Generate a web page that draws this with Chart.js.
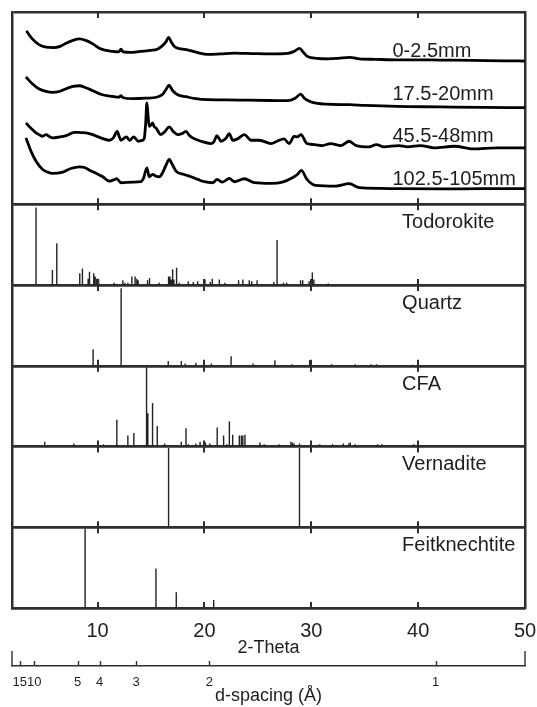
<!DOCTYPE html>
<html>
<head>
<meta charset="utf-8">
<script src="https://cdn.jsdelivr.net/npm/chart.js@4.4.1/dist/chart.umd.min.js"></script>
<style>
  html, body { margin: 0; padding: 0; background: #fff; }
  canvas { display: block; }
</style>
</head>
<body>
<canvas id="chart" width="537" height="707"></canvas>
<script>
// measured patterns: [2-theta, intensity] (arbitrary units, already offset per depth)
var sampleNames = ["0-2.5mm", "17.5-20mm", "45.5-48mm", "102.5-105mm"];

var depth_0_2_5 = [[3.35,174],[3.9,166],[4.56,160],[5.18,157.7],[5.93,157.3],[6.5,158.5],[7.06,161.7],[7.7,164.5],[8.3,166],[8.9,164.5],[9.56,161],[10.3,156],[11.4,153.5],[12.0,153],[12.2,155.7],[12.4,153],[13.1,152.5],[14.0,153.5],[15.0,154.5],[15.6,155.7],[16.0,158.5],[16.4,163],[16.65,167.5],[16.9,163],[17.2,158.3],[17.8,156],[18.4,155],[19.3,152.5],[20.3,150.5],[21.5,151],[22.8,151.7],[24.5,151.3],[26.2,151],[27.8,151.5],[28.4,153.5],[28.9,156.5],[29.3,152],[29.7,148],[30.5,146.5],[31.6,146],[32.5,146.5],[33.6,147.5],[34.5,146],[36,145.5],[38,145],[40,145],[42,144.8],[45,144.5],[48,144],[50,143.8]];

var depth_17_5_20 = [[3.31,127.7],[3.9,121],[4.5,116],[5.18,113.3],[5.8,112.3],[6.5,113.5],[7.06,116],[7.7,118.3],[8.3,119],[8.9,117],[9.56,114],[10.3,110.5],[11.4,108.3],[12.0,107.5],[12.2,109],[12.4,107],[13.3,106],[14.5,106.5],[15.6,107.7],[16.1,110.5],[16.4,115],[16.7,119.5],[17.0,114.5],[17.5,110],[18.3,108],[19.2,106],[20.3,105],[22,104.8],[24,104.5],[26.2,104.2],[27.8,104],[28.5,106.5],[29.0,110.5],[29.4,106],[30.1,102.3],[31.5,100.5],[33.6,100],[35,99.3],[38,98.3],[42,97.8],[46,97.3],[50,97]];

var depth_45_5_48 = [[3.31,81.7],[3.8,76],[4.25,71.7],[4.6,69.5],[4.87,68.3],[5.18,70],[5.5,68],[5.8,66.7],[6.4,67.5],[7.06,69],[7.5,71],[7.84,72.3],[8.4,72],[8.93,71.7],[9.56,70],[10.0,68],[10.5,66],[11.1,64.3],[11.5,67],[11.84,73.3],[12.0,69],[12.2,64.3],[12.7,67.7],[13.0,64.3],[13.4,67.7],[13.8,63.3],[14.1,64],[14.37,66],[14.5,80],[14.62,101.7],[14.74,88],[14.84,78.3],[15.0,79.5],[15.16,81.7],[15.3,78],[15.47,76.7],[15.93,70],[16.3,73],[16.71,77.7],[17.1,73],[17.5,70],[17.9,71],[18.28,73.3],[18.6,69],[18.9,66.7],[19.68,63.3],[20.6,61],[20.9,63],[21.18,69],[21.55,63.3],[22.0,66],[22.33,71],[22.65,64.3],[23.1,65.7],[23.74,70],[24.37,64.3],[25.15,64.3],[26.24,61],[26.8,63.3],[27.46,65.7],[27.93,61],[28.4,68.3],[28.7,67.7],[29.03,70],[29.6,61],[30.3,60],[31.05,59],[31.8,61],[32.8,59],[33.55,63.3],[34.2,59],[35.4,57.7],[36.1,60],[36.8,57.7],[38.2,59],[39,57.7],[40.2,59],[41.5,56.7],[43.4,58.3],[45.2,55.7],[47.4,56.7],[50,56.7]];

var depth_102_5_105 = [[3.31,66.7],[3.78,53.3],[4.25,43.3],[4.87,35],[5.3,32.5],[5.8,31],[6.75,32.3],[7.5,36],[8.31,37.7],[8.8,37],[9.25,34.3],[9.9,31],[10.5,27.7],[11.1,23.3],[11.5,24.5],[11.8,25.7],[12.2,21.7],[13.3,22.3],[14.07,22.7],[14.3,26],[14.62,36.7],[14.84,27.7],[15.16,30],[15.5,28],[15.8,27.7],[16.1,32],[16.4,39],[16.71,45],[17.0,40],[17.34,33.3],[18.1,30],[18.74,27.7],[19.4,25],[20,22.7],[20.8,21.7],[21.18,25],[21.7,22.3],[22.33,26],[22.8,22.7],[23.74,25.7],[24.68,21.7],[26.24,21],[27.3,22.3],[28.24,26.7],[28.7,30],[29.08,34],[29.6,25],[30.4,19],[32.3,18.3],[33.55,20.7],[34.5,16.7],[36.5,16],[38.2,15.7],[42,15.5],[46,15.7],[50,15.7]];

// reference stick patterns: [2-theta, relative intensity %]
var mineralNames = ["Todorokite", "Quartz", "CFA", "Vernadite", "Feitknechtite"];

var todorokite = [[4.25,98],[5.78,19],[6.19,53],[8.34,15],[8.59,21],[9.12,8],[9.25,17],[9.65,15],[9.78,11],[9.93,8],[10.1,8],[11.56,3],[12.37,6],[12.56,3],[12.84,3],[13.21,11],[13.52,11],[13.68,8],[13.8,6],[14.68,6],[14.87,9],[15.77,3],[16.65,11],[16.78,11],[16.9,7],[17.03,20],[17.15,7],[17.4,22],[17.65,3],[18.49,5],[18.96,4],[19.37,5],[20.06,7],[20.55,4],[20.74,8],[21.4,7],[21.93,3],[23.2,6],[23.6,7],[24.2,6],[24.43,5],[24.93,6],[26.5,4],[26.8,57],[27.4,3],[27.7,3],[29.0,6],[29.2,6],[29.8,5],[30.1,16],[30.25,7],[31.6,2],[33,1.5]];

var quartz = [[9.59,21],[12.21,98],[16.62,6],[17.84,6],[18.2,3],[19.2,4],[20.65,3],[22.5,12],[24.56,3],[26.6,7],[28.2,2],[29.85,7],[30.0,5],[31.9,2],[34.1,2],[35.6,2],[36.1,2],[39.5,1.5]];

var cfa = [[5.06,6],[7.78,4],[10.56,3],[11.81,34],[12.84,14],[13.4,17],[14.59,100],[14.71,42],[15.15,55],[15.59,26],[16.28,4],[17.84,6],[18.28,23],[18.5,3],[19.2,4],[19.6,6],[20.1,5],[20.5,4],[21.2,24],[21.8,14],[22.1,3],[22.34,32],[22.65,15],[23.27,14],[23.46,14],[23.6,14],[23.8,15],[25.2,5],[25.6,3],[26.4,2],[27.0,3],[27.5,2],[28.1,6],[28.25,5],[28.4,4],[28.9,4],[30.8,3],[32.0,3],[33.0,4],[33.5,4],[33.65,5],[34.1,3],[35.7,2],[36.2,3],[36.6,3],[37.3,2],[39.6,3],[40.3,2],[41.3,2],[42.5,2],[43.9,2]];

var vernadite = [[16.65,100],[28.9,100]];

var feitknechtite = [[8.84,100],[15.47,50],[17.37,20],[20.87,10]];

// axis ticks
var thetaTicks = [10, 20, 30, 40, 50];
var dSpacingTicks = [15, 10, 5, 4, 3, 2, 1];
var WAVELENGTH = 0.7107; // Mo K-alpha

function twoTheta(d) {
  return 2 * Math.asin(WAVELENGTH / (2 * d)) * 180 / Math.PI;
}

function toPoints(list) {
  return list.map(function (p) { return {x: p[0], y: p[1]}; });
}

// each reflection becomes a vertical segment, nulls break the line between them
function toSticks(list) {
  var pts = [];
  list.forEach(function (p) {
    pts.push({x: p[0], y: 0}, {x: p[0], y: p[1]}, {x: p[0], y: null});
  });
  return pts;
}

var INK = "#2e2e2e";
var FONT = "'Liberation Sans', Arial, Helvetica, sans-serif";
Chart.defaults.font.family = FONT;
Chart.defaults.color = "#1e1e1e";

var samples = [depth_0_2_5, depth_17_5_20, depth_45_5_48, depth_102_5_105];
var minerals = [todorokite, quartz, cfa, vernadite, feitknechtite];
var panelIds = ["ySamples", "yTodorokite", "yQuartz", "yCFA", "yVernadite", "yFeitknechtite"];

var datasets = [];
samples.forEach(function (s, i) {
  datasets.push({
    label: sampleNames[i],
    data: toPoints(s),
    yAxisID: "ySamples",
    borderColor: "#000",
    borderWidth: 2.8,
    pointRadius: 0,
    cubicInterpolationMode: "monotone",
  });
});
minerals.forEach(function (m, i) {
  datasets.push({
    label: mineralNames[i],
    data: toSticks(m),
    yAxisID: panelIds[i + 1],
    borderColor: "#222",
    borderWidth: 1.4,
    pointRadius: 0,
    tension: 0,
  });
});

function frameTicks(scale) {
  scale.ticks = [{value: scale.min}, {value: scale.max}];
}

var frameGrid = { color: INK, lineWidth: 2.5, drawTicks: false };
var frameBorder = { display: true, color: INK, width: 2.5 };

// tick padding also widens the chart's side margins in v4, so the label gap
// is made with an invisible tick length instead
var scales = {
  x: {
    type: "linear",
    position: "bottom",
    min: 2,
    max: 50,
    weight: 0,
    afterBuildTicks: function (s) {
      s.ticks = thetaTicks.map(function (v) { return {value: v}; });
    },
    grid: { display: false, drawTicks: true, tickLength: 13 },
    border: frameBorder,
    ticks: { padding: 0, font: { size: 20, lineHeight: 1 }, color: "#1e1e1e", maxRotation: 0 },
    title: {
      display: true,
      text: "2-Theta",
      font: { size: 18, lineHeight: 1 },
      color: "#1e1e1e",
      padding: { top: -2, bottom: 9 },
    },
  },
  xd: {
    type: "linear",
    position: "bottom",
    min: 2,
    max: 50,
    weight: 1,
    afterBuildTicks: function (s) {
      s.ticks = dSpacingTicks.map(function (d) { return {value: twoTheta(d)}; });
    },
    grid: { display: false, drawTicks: true, tickLength: 9.5 },
    border: { display: true, color: INK, width: 1.5 },
    ticks: {
      padding: 0,
      autoSkip: false,
      maxRotation: 0,
      font: { size: 13, lineHeight: 1 },
      color: "#1e1e1e",
      callback: function (v, i) { return String(dSpacingTicks[i]); },
    },
    title: {
      display: true,
      text: "d-spacing (Å)",
      font: { size: 18, lineHeight: 1 },
      color: "#1e1e1e",
      padding: { top: -1, bottom: 0 },
    },
  },
  yRight: {
    type: "linear",
    position: "right",
    min: 0,
    max: 1,
    ticks: { display: false },
    grid: { display: false, drawTicks: false },
    border: frameBorder,
  },
};

panelIds.forEach(function (id, i) {
  scales[id] = {
    type: "linear",
    position: "left",
    stack: "panels",
    stackWeight: i === 0 ? 193 / 81 : 1,
    weight: panelIds.length - i,
    offset: false,
    min: 0,
    max: i === 0 ? 193 : 102,
    afterBuildTicks: frameTicks,
    ticks: { display: false },
    grid: frameGrid,
    border: frameBorder,
  };
});

// inward tick marks on every panel edge, d-spacing tick marks, and the panel labels
var decorations = {
  id: "decorations",
  afterDraw: function (chart) {
    var ctx = chart.ctx;
    var x = chart.scales.x;
    var xd = chart.scales.xd;
    ctx.save();
    ctx.strokeStyle = INK;
    ctx.lineWidth = 2;
    panelIds.forEach(function (id) {
      var s = chart.scales[id];
      thetaTicks.forEach(function (v) {
        if (v >= x.max) return;
        var px = Math.round(x.getPixelForValue(v));
        ctx.beginPath();
        ctx.moveTo(px, s.top);
        ctx.lineTo(px, s.top + 6);
        ctx.moveTo(px, s.bottom - 6);
        ctx.lineTo(px, s.bottom);
        ctx.stroke();
      });
    });

    ctx.lineWidth = 1.4;
    xd.ticks.forEach(function (t) {
      var px = Math.round(xd.getPixelForValue(t.value)) + 0.5;
      ctx.beginPath();
      ctx.moveTo(px, xd.top - 5);
      ctx.lineTo(px, xd.top);
      ctx.stroke();
    });
    [xd.min, xd.max].forEach(function (v) {
      var px = xd.getPixelForValue(v);
      ctx.beginPath();
      ctx.moveTo(px, xd.top - 15);
      ctx.lineTo(px, xd.top);
      ctx.stroke();
    });

    ctx.fillStyle = "#1e1e1e";
    ctx.font = "20px " + FONT;
    ctx.textBaseline = "middle";
    ctx.textAlign = "left";
    var top = chart.scales.ySamples;
    var sampleLabelAt = [153, 110, 68, 25];
    sampleNames.forEach(function (t, i) {
      ctx.fillText(t, x.getPixelForValue(37.6), top.getPixelForValue(sampleLabelAt[i]));
    });
    mineralNames.forEach(function (t, i) {
      var s = chart.scales[panelIds[i + 1]];
      ctx.fillText(t, x.getPixelForValue(38.5), s.getPixelForValue(79));
    });
    ctx.restore();
  },
};

var chart = new Chart(document.getElementById("chart"), {
  type: "scatter",
  data: { datasets: datasets },
  options: {
    responsive: false,
    animation: false,
    devicePixelRatio: 1,
    showLine: true,
    spanGaps: false,
    layout: { padding: { left: 12, right: 12, top: 12, bottom: 1.5 } },
    plugins: { legend: { display: false }, tooltip: { enabled: false } },
    scales: scales,
  },
  plugins: [decorations],
});
</script>
</body>
</html>
